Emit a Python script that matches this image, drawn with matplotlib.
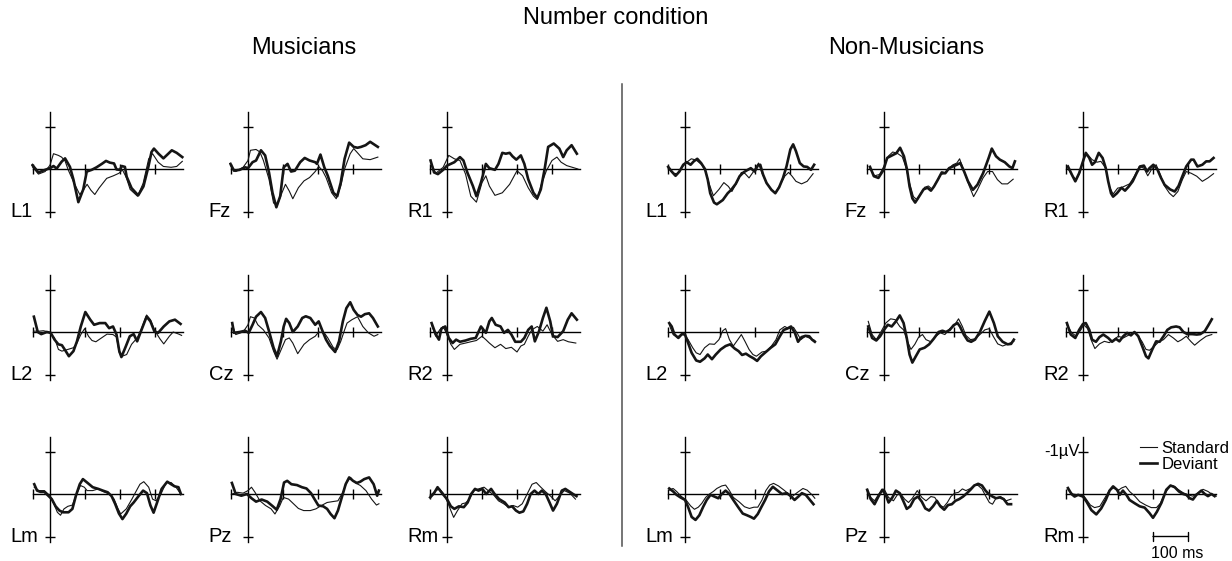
import matplotlib
matplotlib.use('Agg')
import matplotlib.pyplot as plt
from matplotlib.lines import Line2D

plt.rcParams['font.family'] = ['Liberation Sans', 'DejaVu Sans']

# ERP waveforms, (time in ms, amplitude in uV), negative plotted upward
# ---- Musicians ----
mus_L1_std = [(-50,-0.05),(-33,0.12),(-14,0.06),(0,-0.09),(10,-0.36),(24,-0.32),(33,-0.28),(43,-0.19),(52,0.02),(67,0.3),(85,0.6),(95,0.5),(106,0.36),(117,0.5),(128,0.6),(140,0.45),(162,0.22),(181,0.16),(197,0.1),(207,0.02),(218,0.2),(229,0.48),(250,0.64),(266,0.34),(282,-0.24),(293,-0.36),(309,-0.16),(324,-0.06),(346,-0.04),(362,-0.06),(378,-0.18)]
mus_L1_dev = [(-50,-0.09),(-33,0.08),(-14,0.02),(0,-0.02),(10,-0.07),(19,-0.01),(33,-0.17),(43,-0.25),(57,-0.05),(67,0.25),(81,0.78),(95,0.48),(105,0.06),(119,0.02),(133,-0.04),(148,-0.12),(160,-0.19),(171,-0.15),(183,-0.13),(190,0.01),(200,0.02),(205,-0.07),(214,-0.05),(219,0.18),(233,0.45),(252,0.62),(267,0.41),(281,-0.05),(290,-0.4),(297,-0.48),(310,-0.36),(324,-0.25),(338,-0.36),(348,-0.44),(362,-0.38),(378,-0.28)]
mus_Fz_std = [(-50,-0.08),(-35,0.06),(-14,-0.04),(0,-0.2),(7,-0.44),(23,-0.46),(34,-0.4),(44,-0.2),(60,0.24),(73,0.8),(83,0.86),(97,0.56),(107,0.36),(118,0.52),(128,0.7),(144,0.44),(160,0.28),(176,0.2),(192,0.06),(202,-0.06),(213,0.04),(223,0.2),(239,0.56),(252,0.7),(265,0.4),(276,0.0),(292,-0.36),(302,-0.48),(313,-0.38),(328,-0.24),(349,-0.22),(371,-0.28)]
mus_Fz_dev = [(-50,-0.12),(-40,0.04),(-24,0.02),(-8,-0.04),(0,-0.02),(13,-0.16),(23,-0.2),(37,-0.44),(49,-0.32),(60,0.08),(70,0.56),(81,0.9),(92,0.64),(102,-0.04),(113,-0.12),(123,0.06),(134,0.04),(149,-0.16),(162,-0.26),(176,-0.2),(192,-0.16),(197,-0.12),(207,-0.34),(218,-0.04),(228,0.16),(244,0.56),(255,0.64),(265,0.32),(276,-0.24),(289,-0.62),(302,-0.52),(313,-0.5),(323,-0.52),(336,-0.56),(349,-0.64),(360,-0.58),(371,-0.52)]
mus_R1_std = [(-47,-0.16),(-32,0.1),(-11,-0.04),(5,-0.32),(21,-0.24),(37,-0.2),(53,0.12),(68,0.64),(84,0.78),(100,0.32),(111,0.16),(121,0.4),(137,0.62),(158,0.56),(179,0.36),(200,0.04),(216,0.16),(232,0.44),(247,0.64),(258,0.72),(268,0.4),(284,0.04),(300,-0.2),(314,-0.28),(326,-0.16),(342,-0.08),(358,-0.04),(374,0.0)]
mus_R1_dev = [(-47,-0.2),(-37,0.08),(-26,0.12),(-11,0.02),(0,-0.08),(21,-0.16),(37,-0.28),(47,-0.2),(58,0.08),(74,0.4),(84,0.64),(97,0.32),(111,-0.12),(121,-0.02),(137,0.02),(147,-0.12),(158,-0.38),(168,-0.36),(179,-0.38),(187,-0.3),(198,-0.22),(211,-0.32),(221,-0.12),(232,0.24),(247,0.56),(258,0.68),(268,0.48),(279,0.0),(289,-0.52),(305,-0.6),(321,-0.48),(332,-0.28),(342,-0.44),(356,-0.56),(371,-0.36)]
mus_L2_std = [(-46,-0.02),(-30,-0.02),(-19,-0.03),(-3,0.0),(13,0.14),(24,0.41),(34,0.45),(51,0.41),(67,0.37),(77,0.26),(88,0.06),(99,-0.08),(110,0.1),(120,0.2),(131,0.23),(147,0.14),(163,0.05),(180,0.06),(190,0.12),(198,0.49),(206,0.57),(219,0.53),(233,0.29),(249,0.14),(260,-0.05),(276,-0.4),(287,-0.29),(298,-0.05),(314,0.16),(325,0.28),(341,0.1),(352,0.0),(368,0.05),(376,0.08)]
mus_L2_dev = [(-46,-0.36),(-35,0.0),(-25,0.05),(-9,0.0),(2,0.02),(13,0.18),(24,0.29),(34,0.31),(45,0.45),(54,0.57),(67,0.45),(77,0.22),(88,-0.13),(101,-0.47),(115,-0.29),(126,-0.17),(142,-0.21),(158,-0.21),(169,-0.09),(180,-0.13),(190,0.06),(198,0.45),(204,0.59),(217,0.33),(228,0.1),(239,0.05),(249,0.22),(260,-0.02),(276,-0.36),(287,-0.25),(298,-0.02),(309,0.02),(325,-0.13),(341,-0.25),(357,-0.29),(373,-0.19)]
mus_Cz_std = [(-45,-0.17),(-35,0.06),(-14,0.0),(0,-0.17),(7,-0.36),(18,-0.33),(28,-0.17),(44,-0.05),(60,0.14),(73,0.45),(83,0.64),(97,0.37),(107,0.18),(118,0.14),(128,0.26),(142,0.51),(160,0.29),(176,0.18),(192,0.1),(202,0.0),(218,0.02),(228,0.14),(244,0.37),(255,0.41),(265,0.22),(276,-0.05),(283,-0.21),(297,-0.29),(313,-0.36),(328,-0.13),(344,0.02),(360,0.1),(371,0.06)]
mus_Cz_dev = [(-45,-0.21),(-40,0.02),(-24,0.0),(-8,-0.03),(2,0.02),(13,-0.17),(23,-0.36),(37,-0.47),(49,-0.33),(60,-0.02),(73,0.37),(83,0.57),(94,0.22),(102,-0.13),(109,-0.31),(118,-0.21),(128,0.0),(142,-0.13),(155,-0.33),(165,-0.37),(178,-0.33),(192,-0.17),(202,-0.25),(213,-0.02),(223,0.18),(234,0.33),(249,0.47),(260,0.22),(271,-0.25),(281,-0.56),(292,-0.7),(302,-0.52),(313,-0.4),(323,-0.36),(334,-0.42),(346,-0.44),(357,-0.33),(371,-0.13)]
mus_R2_std = [(-44,-0.17),(-32,0.1),(-21,-0.05),(-11,-0.13),(0,0.06),(11,0.29),(21,0.41),(37,0.29),(53,0.26),(68,0.23),(84,0.2),(100,0.1),(111,0.18),(121,0.26),(137,0.37),(153,0.29),(168,0.39),(184,0.36),(200,0.47),(211,0.33),(221,0.29),(232,0.1),(242,-0.05),(258,-0.13),(274,-0.02),(286,-0.17),(300,0.06),(316,0.22),(332,0.18),(347,0.23),(368,0.26)]
mus_R2_dev = [(-44,-0.21),(-32,0.06),(-23,0.18),(-16,-0.08),(-5,-0.13),(5,0.14),(16,0.26),(26,0.18),(37,0.23),(53,0.2),(68,0.16),(82,0.14),(97,-0.13),(111,0.02),(121,-0.25),(128,-0.33),(139,-0.17),(153,-0.13),(163,0.02),(174,-0.05),(184,0.06),(195,0.23),(211,0.23),(221,0.14),(232,-0.05),(242,-0.13),(251,0.22),(263,-0.02),(274,-0.33),(284,-0.57),(295,-0.25),(303,0.1),(316,0.12),(332,-0.02),(345,-0.29),(356,-0.44),(371,-0.29)]
mus_Lm_std = [(-45,-0.16),(-32,-0.08),(-16,-0.08),(0,0.04),(11,0.23),(21,0.43),(30,0.5),(40,0.35),(51,0.29),(64,0.26),(74,0.04),(87,-0.2),(98,-0.16),(106,-0.08),(122,-0.08),(138,-0.12),(154,-0.05),(170,0.0),(183,0.12),(194,0.34),(202,0.47),(218,0.35),(234,0.12),(247,-0.08),(257,-0.23),(268,-0.29),(282,-0.16),(293,0.12),(303,0.16),(317,0.0),(332,-0.27),(346,-0.27),(360,-0.16),(372,-0.02)]
mus_Lm_dev = [(-45,-0.23),(-37,-0.08),(-27,-0.05),(-16,-0.05),(-5,0.04),(5,0.12),(16,0.29),(27,0.39),(37,0.43),(53,0.43),(64,0.35),(74,0.04),(85,-0.23),(94,-0.35),(106,-0.27),(122,-0.16),(138,-0.12),(151,-0.08),(165,-0.04),(176,0.05),(186,0.23),(197,0.46),(207,0.59),(218,0.46),(229,0.29),(239,0.2),(253,0.05),(266,-0.08),(277,-0.02),(287,0.27),(296,0.44),(306,0.2),(319,-0.12),(335,-0.29),(346,-0.23),(356,-0.18),(367,-0.16),(374,0.0)]
mus_Pz_std = [(-46,0.0),(-30,-0.04),(-14,-0.02),(0,-0.08),(10,-0.16),(20,-0.04),(34,0.16),(50,0.27),(66,0.35),(77,0.47),(90,0.29),(101,0.08),(116,0.12),(130,0.23),(144,0.34),(159,0.39),(178,0.39),(194,0.35),(210,0.27),(226,0.2),(241,0.18),(257,0.16),(271,-0.04),(282,-0.27),(293,-0.39),(305,-0.27),(321,-0.2),(337,-0.08),(353,0.12),(367,0.26),(374,0.23)]
mus_Pz_dev = [(-46,-0.26),(-35,0.0),(-19,0.04),(-3,0.0),(10,0.1),(23,0.18),(39,0.13),(55,0.18),(71,0.29),(82,0.37),(93,0.12),(103,-0.27),(112,-0.31),(124,-0.23),(140,-0.21),(154,-0.16),(167,-0.13),(180,-0.02),(190,0.12),(201,0.27),(215,0.29),(226,0.35),(236,0.47),(247,0.57),(257,0.39),(268,0.08),(279,-0.23),(289,-0.39),(300,-0.31),(311,-0.26),(321,-0.29),(332,-0.35),(346,-0.39),(359,-0.23),(369,0.04),(374,-0.08)]
mus_Rm_std = [(-48,0.04),(-32,-0.08),(-21,-0.12),(-11,-0.02),(0,0.16),(11,0.39),(19,0.55),(30,0.39),(43,0.23),(53,0.21),(64,0.12),(77,-0.08),(90,-0.12),(106,-0.16),(122,-0.05),(133,0.02),(147,0.16),(162,0.23),(176,0.31),(189,0.27),(202,0.31),(215,0.23),(229,0.0),(243,-0.23),(255,-0.27),(268,-0.16),(282,-0.05),(296,0.05),(309,0.16),(321,0.05),(335,-0.08),(351,-0.02),(367,0.12)]
mus_Rm_dev = [(-48,0.08),(-37,-0.02),(-27,-0.16),(-16,-0.04),(0,0.12),(11,0.29),(21,0.35),(34,0.29),(48,0.31),(59,0.2),(69,0.0),(80,-0.12),(90,-0.08),(101,-0.12),(112,0.0),(126,-0.12),(136,0.0),(149,0.12),(165,0.2),(176,0.31),(186,0.29),(197,0.39),(207,0.44),(218,0.41),(229,0.23),(239,0.0),(250,-0.08),(261,0.0),(271,-0.08),(282,0.0),(293,0.2),(303,0.39),(314,0.23),(328,-0.08),(338,-0.12),(349,-0.06),(360,0.0),(370,0.05)]

# ---- Non-Musicians ----
non_L1_std = [(-48,-0.02),(-35,0.1),(-22,0.11),(-8,-0.05),(5,-0.16),(18,-0.24),(32,-0.21),(48,-0.1),(59,0.06),(70,0.37),(81,0.63),(97,0.48),(111,0.32),(124,0.41),(134,0.53),(147,0.33),(161,0.08),(172,0.11),(183,0.21),(194,0.08),(210,-0.14),(220,0.1),(233,0.32),(247,0.49),(258,0.56),(272,0.37),(285,0.17),(296,0.08),(306,0.17),(317,0.29),(333,0.35),(349,0.29),(366,0.11)]
non_L1_dev = [(-48,-0.05),(-38,0.06),(-27,0.16),(-16,0.06),(-5,-0.1),(5,-0.16),(16,-0.1),(25,-0.18),(35,-0.24),(46,-0.14),(57,0.0),(65,0.25),(72,0.57),(83,0.79),(91,0.83),(108,0.73),(122,0.57),(132,0.49),(145,0.35),(156,0.17),(167,0.08),(177,0.03),(188,-0.02),(199,0.06),(208,-0.08),(215,-0.1),(223,0.13),(233,0.33),(247,0.49),(258,0.57),(269,0.43),(280,0.21),(290,-0.06),(301,-0.46),(309,-0.58),(317,-0.42),(328,-0.14),(339,-0.06),(349,-0.05),(360,0.02),(369,-0.1)]
non_Fz_std = [(-40,-0.02),(-27,0.16),(-13,0.13),(0,-0.06),(12,-0.3),(25,-0.4),(38,-0.37),(52,-0.29),(62,-0.06),(73,0.33),(84,0.65),(95,0.73),(105,0.57),(116,0.43),(127,0.4),(138,0.48),(148,0.33),(162,0.13),(173,0.11),(186,-0.02),(197,-0.1),(208,-0.14),(216,-0.24),(229,0.06),(242,0.37),(256,0.65),(267,0.49),(283,0.21),(296,0.06),(310,0.06),(324,0.25),(337,0.35),(353,0.35),(369,0.24)]
non_Fz_dev = [(-40,-0.05),(-29,0.17),(-16,0.21),(-2,0.03),(9,-0.26),(23,-0.32),(35,-0.37),(46,-0.5),(57,-0.3),(66,0.02),(73,0.41),(81,0.69),(89,0.79),(100,0.65),(113,0.48),(124,0.44),(134,0.51),(143,0.41),(154,0.25),(165,0.08),(175,0.1),(186,-0.02),(197,-0.06),(208,-0.1),(218,-0.14),(229,0.06),(240,0.29),(254,0.49),(267,0.37),(283,0.1),(299,-0.26),(308,-0.48),(320,-0.3),(331,-0.22),(345,-0.16),(358,-0.06),(367,-0.02),(374,-0.18)]
non_R1_std = [(-43,-0.02),(-30,0.17),(-19,0.25),(-9,0.08),(2,-0.26),(13,-0.34),(26,-0.22),(40,-0.16),(51,-0.18),(65,-0.02),(75,0.41),(86,0.59),(99,0.45),(112,0.43),(120,0.4),(133,0.35),(147,0.17),(161,-0.06),(174,-0.02),(185,0.16),(198,-0.02),(209,-0.1),(219,0.1),(233,0.4),(247,0.57),(258,0.65),(271,0.53),(284,0.25),(295,0.06),(309,0.1),(325,0.17),(341,0.29),(357,0.21),(373,0.11)]
non_R1_dev = [(-43,-0.06),(-32,0.13),(-22,0.29),(-11,0.1),(0,-0.18),(8,-0.38),(18,-0.26),(26,-0.1),(34,-0.16),(45,-0.38),(56,-0.26),(65,-0.02),(72,0.29),(80,0.57),(86,0.65),(97,0.57),(110,0.44),(120,0.51),(131,0.41),(142,0.29),(153,0.1),(163,-0.06),(174,-0.08),(183,0.06),(190,-0.02),(201,-0.1),(212,0.0),(223,0.21),(233,0.37),(249,0.48),(262,0.53),(273,0.4),(282,0.21),(295,-0.06),(309,-0.22),(316,-0.22),(327,-0.06),(341,-0.1),(352,-0.18),(362,-0.18),(373,-0.26)]
non_L2_std = [(-45,-0.17),(-34,0.06),(-22,0.12),(-5,0.02),(9,0.18),(22,0.37),(32,0.49),(43,0.53),(56,0.37),(70,0.28),(84,0.29),(97,0.18),(108,-0.03),(116,-0.08),(127,0.18),(138,0.33),(151,0.18),(161,0.06),(172,0.23),(183,0.41),(194,0.53),(204,0.57),(220,0.47),(234,0.45),(247,0.33),(260,0.18),(271,-0.05),(285,-0.13),(296,-0.08),(310,-0.11),(320,0.02),(331,0.18),(344,0.1),(360,0.16),(371,0.2)]
non_L2_dev = [(-45,-0.21),(-38,-0.13),(-30,0.06),(-19,0.14),(-9,0.05),(0,0.06),(9,0.26),(19,0.49),(32,0.67),(43,0.7),(56,0.62),(65,0.53),(77,0.64),(88,0.53),(102,0.41),(116,0.33),(129,0.29),(142,0.39),(153,0.45),(163,0.54),(174,0.51),(185,0.57),(196,0.62),(206,0.68),(217,0.57),(231,0.47),(245,0.37),(258,0.29),(271,0.1),(282,-0.05),(292,-0.08),(303,-0.13),(314,0.02),(323,0.23),(333,0.12),(344,0.09),(355,0.1),(363,0.18),(371,0.23)]
non_Cz_std = [(-45,-0.25),(-34,0.06),(-22,0.18),(-9,0.0),(5,-0.21),(19,-0.31),(32,-0.29),(45,-0.13),(56,-0.05),(67,0.22),(77,0.41),(88,0.29),(99,0.12),(110,0.06),(120,0.18),(134,0.23),(148,0.1),(161,0.02),(174,0.06),(188,-0.08),(199,-0.13),(213,-0.31),(224,-0.13),(234,0.08),(247,0.18),(260,0.16),(274,0.06),(288,-0.05),(301,-0.08),(312,0.1),(325,0.28),(339,0.33),(355,0.28),(371,0.22)]
non_Cz_dev = [(-45,-0.13),(-34,0.14),(-22,0.2),(-11,0.1),(0,-0.05),(11,-0.17),(22,-0.13),(34,-0.25),(45,-0.39),(56,-0.21),(65,0.14),(73,0.53),(81,0.72),(91,0.57),(102,0.41),(116,0.37),(129,0.29),(142,0.16),(156,0.0),(167,-0.03),(177,0.0),(188,-0.05),(199,-0.16),(210,-0.21),(217,-0.13),(228,0.06),(239,0.2),(249,0.23),(260,0.18),(274,0.0),(288,-0.26),(301,-0.48),(314,-0.21),(325,0.1),(339,0.23),(353,0.29),(363,0.28),(371,0.18)]
non_R2_std = [(-46,-0.17),(-32,0.02),(-19,0.1),(-6,-0.05),(2,-0.17),(13,-0.08),(24,0.2),(34,0.39),(47,0.28),(61,0.22),(75,0.25),(88,0.18),(101,0.1),(115,0.14),(129,0.08),(142,0.02),(155,0.06),(169,0.23),(180,0.41),(190,0.43),(204,0.33),(217,0.23),(230,0.18),(244,0.06),(258,0.14),(271,0.23),(282,0.18),(295,0.1),(309,0.23),(319,0.31),(335,0.2),(352,0.1),(368,0.06)]
non_R2_dev = [(-46,-0.21),(-35,0.06),(-22,0.14),(-11,-0.05),(0,-0.19),(8,-0.21),(18,-0.05),(26,0.18),(37,0.23),(47,0.12),(58,0.06),(72,0.14),(83,0.23),(94,0.16),(104,0.22),(115,0.1),(126,0.02),(137,0.08),(147,0.0),(158,0.1),(169,0.33),(180,0.57),(187,0.62),(198,0.41),(209,0.22),(219,0.23),(230,0.1),(241,-0.05),(252,-0.11),(266,-0.13),(276,-0.11),(287,0.0),(298,0.05),(312,0.05),(325,0.06),(335,0.05),(348,-0.02),(359,-0.17),(368,-0.3)]
non_Lm_std = [(-45,-0.09),(-34,-0.13),(-24,-0.06),(-10,0.06),(3,0.14),(16,0.28),(27,0.36),(38,0.31),(48,0.22),(59,0.08),(70,0.0),(81,-0.06),(91,-0.13),(105,-0.19),(116,-0.21),(127,-0.08),(138,0.08),(154,0.18),(170,0.3),(184,0.34),(197,0.31),(208,0.31),(220,0.14),(231,-0.08),(242,-0.21),(253,-0.25),(267,-0.19),(283,-0.09),(296,0.0),(306,0.06),(320,-0.03),(337,-0.13),(349,-0.09),(363,0.02),(371,0.1)]
non_Lm_dev = [(-45,-0.13),(-34,-0.06),(-24,0.02),(-13,0.08),(0,0.14),(9,0.31),(19,0.54),(30,0.61),(41,0.5),(52,0.3),(62,0.14),(73,0.02),(84,0.06),(95,0.1),(105,0.0),(116,-0.08),(127,0.0),(138,0.14),(152,0.31),(165,0.46),(177,0.5),(188,0.54),(197,0.58),(208,0.47),(218,0.31),(229,0.14),(240,-0.06),(251,-0.17),(263,-0.09),(277,0.0),(291,-0.02),(302,0.05),(313,0.14),(324,0.06),(334,-0.02),(345,0.02),(356,0.13),(367,0.24)]
non_Pz_std = [(-48,-0.08),(-38,0.08),(-27,0.16),(-13,-0.02),(0,-0.12),(13,0.08),(27,0.16),(38,0.02),(48,0.0),(59,0.12),(70,0.2),(81,0.1),(95,-0.08),(108,0.08),(120,0.16),(134,0.06),(145,0.08),(159,0.26),(170,0.31),(181,0.2),(191,0.06),(202,-0.02),(213,-0.04),(224,-0.12),(234,-0.08),(247,-0.13),(258,-0.21),(269,-0.2),(280,-0.12),(290,0.04),(301,0.2),(310,0.24),(320,0.1),(333,0.06),(349,0.16),(363,0.12)]
non_Pz_dev = [(-48,-0.1),(-38,0.12),(-27,0.24),(-16,0.06),(-5,-0.1),(5,0.02),(13,0.2),(24,0.08),(34,-0.08),(45,-0.02),(56,0.18),(65,0.35),(75,0.29),(86,0.12),(97,0.06),(108,0.18),(118,0.34),(129,0.39),(140,0.29),(151,0.16),(161,0.29),(172,0.37),(183,0.26),(194,0.24),(204,0.16),(215,0.12),(226,0.06),(237,-0.02),(247,-0.1),(258,-0.2),(269,-0.24),(280,-0.2),(290,-0.08),(299,0.0),(310,0.06),(320,0.1),(331,0.08),(342,0.12),(353,0.24),(363,0.24)]
non_Rm_std = [(-43,-0.1),(-29,0.0),(-14,0.02),(0,0.02),(10,0.13),(21,0.26),(33,0.32),(48,0.29),(62,0.1),(76,-0.1),(88,-0.14),(100,-0.08),(110,-0.14),(122,-0.18),(133,-0.06),(148,0.05),(162,0.18),(179,0.26),(195,0.32),(210,0.32),(221,0.22),(233,0.0),(248,-0.18),(259,-0.19),(271,-0.11),(286,-0.03),(300,0.02),(314,0.05),(329,-0.03),(343,-0.11),(357,-0.06),(371,0.02),(381,0.05)]
non_Rm_dev = [(-43,-0.14),(-33,0.0),(-24,0.06),(-14,0.02),(0,0.06),(10,0.18),(24,0.38),(38,0.48),(52,0.34),(65,0.14),(76,-0.08),(86,-0.18),(97,-0.1),(105,0.02),(114,-0.08),(124,0.02),(133,0.14),(148,0.22),(162,0.29),(176,0.32),(190,0.45),(200,0.56),(211,0.42),(224,0.21),(238,-0.1),(250,-0.2),(262,-0.16),(274,-0.06),(286,0.0),(295,0.02),(305,0.1),(314,0.13),(324,0.02),(338,-0.08),(348,0.0),(357,0.05),(367,0.0),(376,0.05)]

electrodes = [['L1', 'Fz', 'R1'], ['L2', 'Cz', 'R2'], ['Lm', 'Pz', 'Rm']]
musicians = {'L1': (mus_L1_std, mus_L1_dev), 'Fz': (mus_Fz_std, mus_Fz_dev), 'R1': (mus_R1_std, mus_R1_dev),
             'L2': (mus_L2_std, mus_L2_dev), 'Cz': (mus_Cz_std, mus_Cz_dev), 'R2': (mus_R2_std, mus_R2_dev),
             'Lm': (mus_Lm_std, mus_Lm_dev), 'Pz': (mus_Pz_std, mus_Pz_dev), 'Rm': (mus_Rm_std, mus_Rm_dev)}
non_musicians = {'L1': (non_L1_std, non_L1_dev), 'Fz': (non_Fz_std, non_Fz_dev), 'R1': (non_R1_std, non_R1_dev),
                 'L2': (non_L2_std, non_L2_dev), 'Cz': (non_Cz_std, non_Cz_dev), 'R2': (non_R2_std, non_R2_dev),
                 'Lm': (non_Lm_std, non_Lm_dev), 'Pz': (non_Pz_std, non_Pz_dev), 'Rm': (non_Rm_std, non_Rm_dev)}

# epoch and axis ticks
T_START, T_END = -48, 380
X_TICKS = [T_START, 100, 200, 300]
Y_TICKS = [-1, 1]
SCALE_MS = 100

# layout (pixels)
W, H = 1232, 561
PX_MS = 0.35
PX_UV = 42.5
XLIM = (-55, 390)
YLIM = (1.2, -1.45)   # negative up
col_x0 = [[50, 248, 447], [685, 884, 1083]]
row_y0 = [169, 332, 494]

LINE_COL = '#151515'


def draw_panel(ax, std, dev, name):
    ax.set_xlim(XLIM)
    ax.set_ylim(YLIM)
    ax.patch.set_visible(False)
    for s in ['top', 'right']:
        ax.spines[s].set_visible(False)
    ax.spines['left'].set_position(('data', 0))
    ax.spines['bottom'].set_position(('data', 0))
    ax.spines['left'].set_bounds(1.14, -1.34)
    ax.spines['bottom'].set_bounds(T_START, T_END)
    for s in ['left', 'bottom']:
        ax.spines[s].set_linewidth(1.0)
        ax.spines[s].set_color('#000000')
    ax.set_xticks(X_TICKS)
    ax.set_yticks(Y_TICKS)
    ax.set_xticklabels([])
    ax.set_yticklabels([])
    ax.tick_params(direction='inout', length=7, width=1.0, color='#000000')

    t, v = zip(*std)
    ax.plot(t, v, color=LINE_COL, lw=0.8, zorder=3)
    t, v = zip(*dev)
    ax.plot(t, v, color=LINE_COL, lw=1.9, zorder=4)

    ax.text(-112, 1.0, name, fontsize=14.5, ha='left', va='center')


fig = plt.figure(figsize=(W / 100, H / 100), dpi=100)

for g, group in enumerate([musicians, non_musicians]):
    for r in range(3):
        for c in range(3):
            x0 = col_x0[g][c]
            y0 = row_y0[r]
            left = (x0 + XLIM[0] * PX_MS) / W
            bottom = (H - (y0 + YLIM[0] * PX_UV)) / H
            width = (XLIM[1] - XLIM[0]) * PX_MS / W
            height = (YLIM[0] - YLIM[1]) * PX_UV / H
            ax = fig.add_axes([left, bottom, width, height])
            name = electrodes[r][c]
            std, dev = group[name]
            draw_panel(ax, std, dev, name)

# calibration, legend and time scale in the last panel
ax.text(-8, -1.0, '-1\u00b5V', fontsize=12, ha='right', va='center')
handles = [Line2D([], [], color=LINE_COL, lw=0.8), Line2D([], [], color=LINE_COL, lw=1.9)]
ax.legend(handles, ['Standard', 'Deviant'], loc='upper left',
          bbox_to_anchor=(163, -1.24), bbox_transform=ax.transData,
          frameon=False, fontsize=12, borderpad=0, borderaxespad=0,
          handlelength=1.0, handletextpad=0.3, labelspacing=0.05)
ax.annotate('', xy=(200, 1.0), xytext=(200 + SCALE_MS, 1.0),
            arrowprops=dict(arrowstyle='|-|, widthA=0.3, widthB=0.3', lw=1.0,
                            color='#000000', shrinkA=0, shrinkB=0))
ax.text(270, 1.4, '%d ms' % SCALE_MS, fontsize=11.5, ha='center', va='center')

# titles and group divider
fig.text(616 / W, 1 - 18 / H, 'Number condition', fontsize=17, ha='center', va='center')
fig.text(304 / W, 1 - 48 / H, 'Musicians', fontsize=17, ha='center', va='center')
fig.text(906 / W, 1 - 48 / H, 'Non-Musicians', fontsize=17, ha='center', va='center')
fig.add_artist(Line2D([622 / W, 622 / W], [1 - 84 / H, 1 - 546 / H],
                      color='#505050', lw=1.1, transform=fig.transFigure))

fig.savefig('out.png', dpi=100)
